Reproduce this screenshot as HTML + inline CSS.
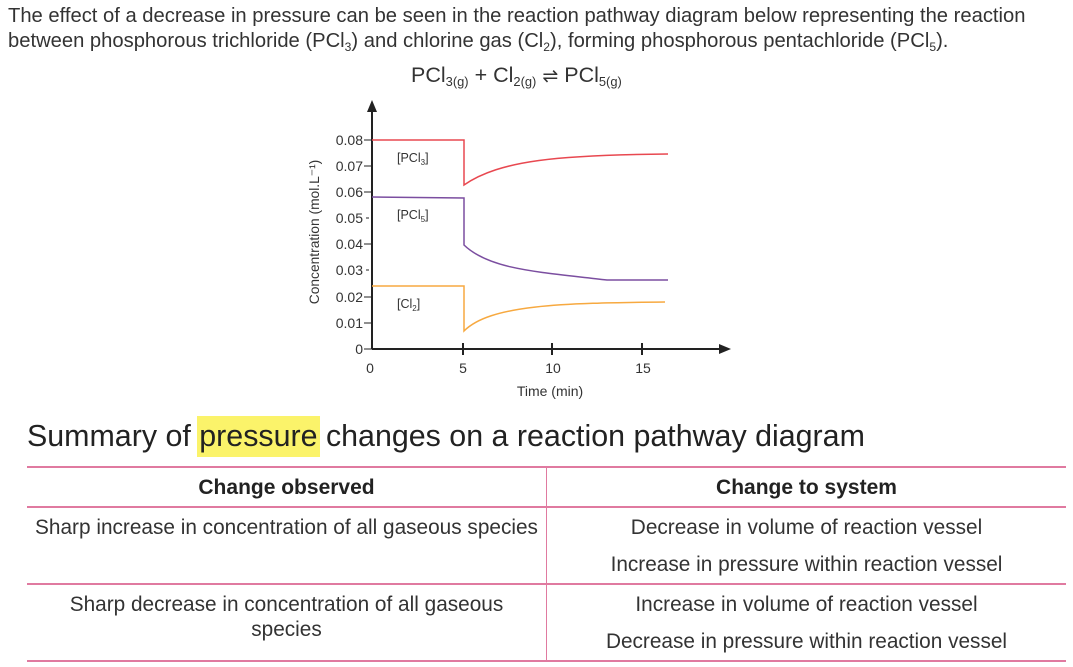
<!DOCTYPE html>
<html><head><meta charset="utf-8"><style>
body{margin:0;width:1073px;height:667px;background:#fff;font-family:"Liberation Sans",Arial,sans-serif;color:#222;position:relative;overflow:hidden}
.a{position:absolute;white-space:nowrap}
sub{font-size:60%;vertical-align:-4px}
.t{font-size:20.8px;color:#333}
</style></head><body>
<div class="a t" style="left:8px;top:5px;font-size:20.2px">The effect of a decrease in pressure can be seen in the reaction pathway diagram below representing the reaction</div>
<div class="a t" style="left:8px;top:30px;font-size:20.2px">between phosphorous trichloride (PCl<sub>3</sub>) and chlorine gas (Cl<sub>2</sub>), forming phosphorous pentachloride (PCl<sub>5</sub>).</div>
<div class="a t" style="left:411px;top:63px;font-size:21.5px">PCl<sub>3(g)</sub> + Cl<sub>2(g)</sub> <span style="font-size:19px">⇌</span> PCl<sub>5(g)</sub></div>

<svg class="a" style="left:0;top:0" width="1073" height="410">
<g stroke="#222" stroke-width="2" fill="none">
<line x1="372" y1="349" x2="372" y2="108"/>
<line x1="372" y1="349" x2="724" y2="349"/>
</g>
<polygon points="372,100 367,112 377,112" fill="#222"/>
<polygon points="731,349 719,344 719,354" fill="#222"/>
<g stroke="#222" stroke-width="1">
<line x1="364" y1="140" x2="372" y2="140"/><line x1="364" y1="166" x2="372" y2="166"/>
<line x1="364" y1="192" x2="372" y2="192"/><line x1="366" y1="218" x2="369" y2="218"/>
<line x1="364" y1="244" x2="372" y2="244"/><line x1="366" y1="270" x2="369" y2="270"/>
<line x1="364" y1="297" x2="372" y2="297"/><line x1="364" y1="323" x2="372" y2="323"/>
<line x1="364" y1="349" x2="372" y2="349"/>
</g>
<g stroke="#222" stroke-width="2"><line x1="463" y1="343" x2="463" y2="355"/><line x1="552" y1="343" x2="552" y2="355"/><line x1="642" y1="343" x2="642" y2="355"/></g>
<g font-size="14" fill="#333" text-anchor="end">
<text x="363" y="145">0.08</text><text x="363" y="171">0.07</text><text x="363" y="197">0.06</text>
<text x="363" y="223">0.05</text><text x="363" y="249">0.04</text><text x="363" y="275">0.03</text>
<text x="363" y="302">0.02</text><text x="363" y="328">0.01</text><text x="363" y="354">0</text>
</g>
<g font-size="14" fill="#333" text-anchor="middle">
<text x="370" y="373">0</text><text x="463" y="373">5</text><text x="553" y="373">10</text><text x="643" y="373">15</text>
<text x="550" y="396">Time (min)</text>
</g>
<text transform="translate(319,232) rotate(-90)" font-size="13.8" fill="#333" text-anchor="middle">Concentration (mol.L⁻¹)</text>
<g fill="none" stroke-width="1.5">
<path d="M372 140 L464 140 L464 185 C500 160 560 155 668 154" stroke="#e84850"/>
<path d="M372 197 L464 198 L464 245 C490 270 540 272 607 280 L668 280" stroke="#7b4ea0"/>
<path d="M372 286 L464 286 L464 331 C490 305 560 303 665 302" stroke="#f7a940"/>
</g>
<g font-size="12.5" fill="#333">
<text x="397" y="162">[PCl<tspan font-size="8" dy="3">3</tspan><tspan dy="-3">]</tspan></text>
<text x="397" y="219">[PCl<tspan font-size="8" dy="3">5</tspan><tspan dy="-3">]</tspan></text>
<text x="397" y="308">[Cl<tspan font-size="8" dy="3">2</tspan><tspan dy="-3">]</tspan></text>
</g>
</svg>

<div class="a" style="left:27px;top:419px;font-size:30.4px;color:#222">Summary of <span style="background:#fbf36a;padding:3px 2px 4px;margin:0 -2px">pressure</span> changes on a reaction pathway diagram</div>

<div class="a" style="left:27px;top:466px;width:1039px;height:2px;background:#e07aa0"></div>
<div class="a" style="left:27px;top:506px;width:1039px;height:2px;background:#e07aa0"></div>
<div class="a" style="left:27px;top:583px;width:1039px;height:2px;background:#e07aa0"></div>
<div class="a" style="left:27px;top:660px;width:1039px;height:2px;background:#e07aa0"></div>
<div class="a" style="left:546px;top:466px;width:1px;height:195px;background:#e07aa0"></div>

<div class="a t" style="left:27px;width:519px;text-align:center;top:476px;font-weight:bold;color:#222;font-size:21px">Change observed</div>
<div class="a t" style="left:547px;width:519px;text-align:center;top:476px;font-weight:bold;color:#222;font-size:21px">Change to system</div>
<div class="a t" style="left:27px;width:519px;text-align:center;top:516px">Sharp increase in concentration of all gaseous species</div>
<div class="a t" style="left:547px;width:519px;text-align:center;top:516px">Decrease in volume of reaction vessel</div>
<div class="a t" style="left:547px;width:519px;text-align:center;top:553px">Increase in pressure within reaction vessel</div>
<div class="a t" style="left:27px;width:519px;text-align:center;top:593px">Sharp decrease in concentration of all gaseous</div>
<div class="a t" style="left:27px;width:519px;text-align:center;top:618px">species</div>
<div class="a t" style="left:547px;width:519px;text-align:center;top:593px">Increase in volume of reaction vessel</div>
<div class="a t" style="left:547px;width:519px;text-align:center;top:630px">Decrease in pressure within reaction vessel</div>
</body></html>
